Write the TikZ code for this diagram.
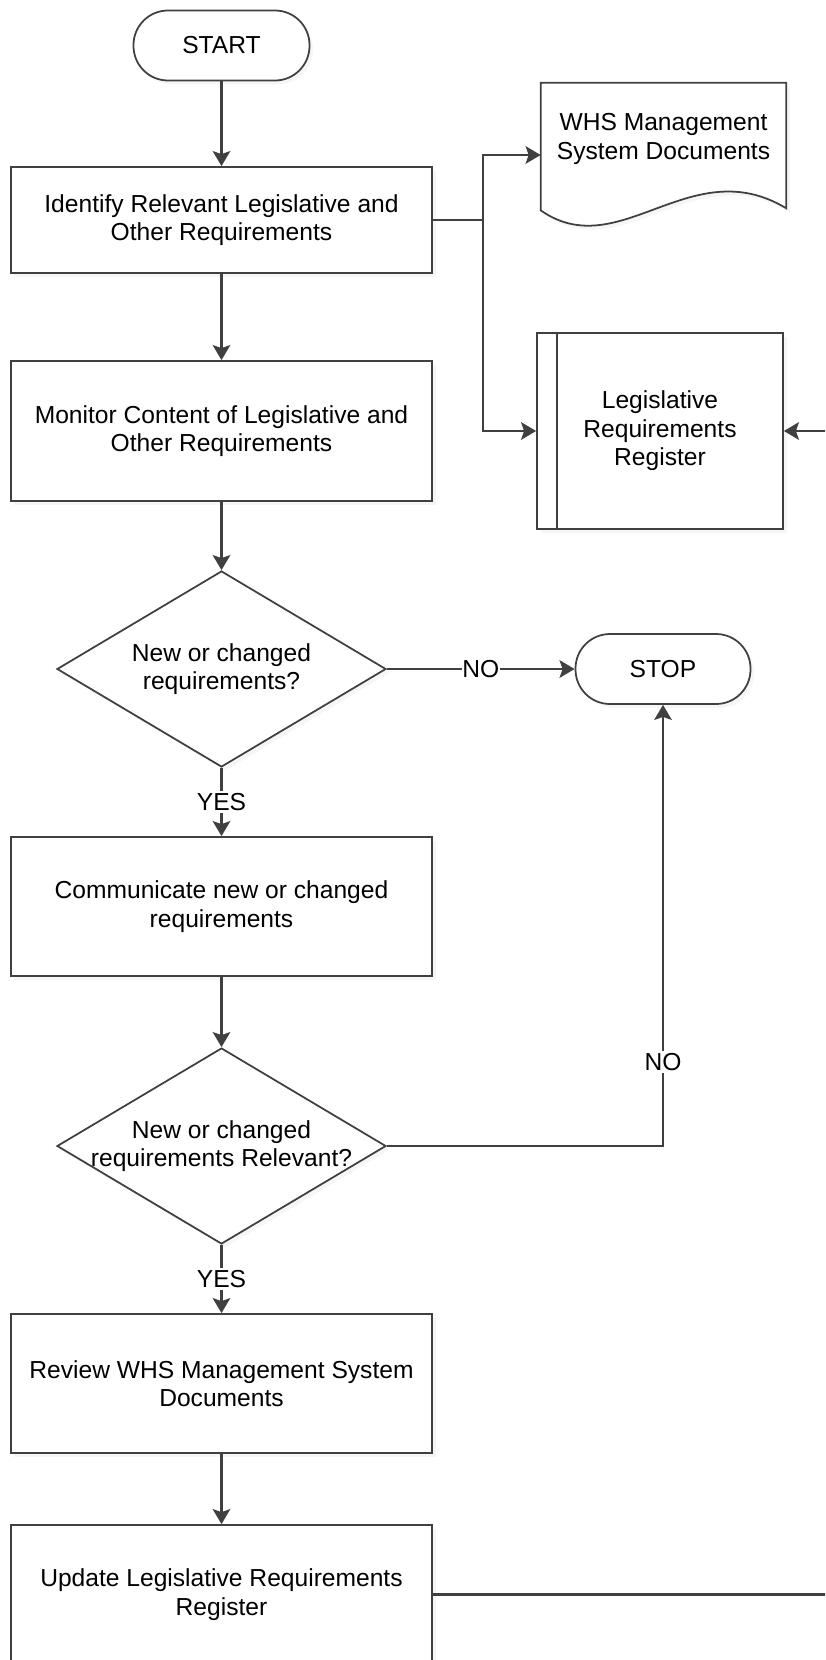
\documentclass[tikz,border=0pt]{standalone}
\usepackage{fontspec}
\setmainfont{Liberation Sans}
\usetikzlibrary{arrows.meta,positioning,shapes.geometric,shadows,calc,backgrounds}
\definecolor{ink}{RGB}{64,64,64}
\newcommand\flowfont{\fontsize{14}{16.2}\selectfont}
\tikzset{
  >={Stealth[length=3mm,width=3.5mm,inset=0.6mm]},
  faint/.style={drop shadow={shadow xshift=0.7mm,shadow yshift=-0.8mm,opacity=0.07}},
  box/.style={draw=ink,fill=white,line width=1pt,minimum width=84.2mm,
    minimum height=#1,align=center,font=\flowfont,faint},
  box/.default=27.8mm,
  terminal/.style={draw=ink,fill=white,line width=1pt,rounded corners=6.9mm,
    minimum width=35.2mm,minimum height=14mm,font=\flowfont,faint},
  decision/.style={diamond,draw=ink,fill=white,line width=1pt,inner sep=0pt,
    minimum width=65.8mm,minimum height=39.2mm,faint},
  flow/.style={->,line width=1.5pt,draw=ink},
  tag/.style={font=\flowfont,align=center},
  answer/.style={font=\flowfont,fill=white,inner sep=1.2pt},
}

\begin{document}
\begin{tikzpicture}
    \useasboundingbox (0,0) rectangle (16.5,-33.2);
    \clip (0,0) rectangle (16.5,-33.2);
    % main column
    \node[terminal] (start) at (4.43,-0.91) {START};
    \node[box=21.2mm] (idf) at (4.43,-4.4) {Identify Relevant Legislative and\\Other Requirements};
    \node[box=28mm] (mon) at (4.43,-8.62) {Monitor Content of Legislative and\\Other Requirements};
    \node[decision] (d1) at (4.43,-13.38) {};
    \node[tag] (d1q) at (d1) {New or changed\\requirements?};
    \node[box] (comm) at (4.43,-18.13) {Communicate new or changed\\requirements};
    \node[decision] (d2) at (4.43,-22.92) {};
    \node[tag] (d2q) at (d2) {New or changed\\requirements Relevant?};
    \node[box] (rev) at (4.43,-27.67) {Review WHS Management System\\Documents};
    \node[box] (upd) at (4.43,-31.89) {Update Legislative Requirements\\Register};
    % right column
    \node[terminal,minimum width=35mm] (stop) at (13.26,-13.38) {STOP};
    \node[tag,minimum width=49mm,minimum height=22.4mm] (docs) at (13.27,-2.78) {WHS Management\\System Documents};
    \begin{scope}[on background layer]
      \draw[draw=ink,fill=white,line width=1pt,faint] (docs.north west) -- (docs.north east)
        -- ([yshift=-2.6mm]docs.south east)
        .. controls ([xshift=-19.2mm,yshift=9mm]docs.south east) and ([xshift=15.8mm,yshift=-14mm]docs.south west)
        .. ([yshift=-3mm]docs.south west) -- cycle;
    \end{scope}
    \node[box=39.2mm,minimum width=49.2mm] (reg) at (13.2,-8.62) {Legislative\\Requirements\\Register};
    \draw[draw=ink,line width=1pt] ([xshift=4.2mm]reg.north west) -- ([xshift=4.2mm]reg.south west);
    \coordinate (fork) at (9.66,-4.4);
    \coordinate (back) at (17.2,-20);
    % connectors
    \draw[flow] (start) -- (idf);
    \draw[flow] (idf) -- (mon);
    \draw[flow] (mon) -- (d1);
    \draw[flow] (d1) -- node[answer]{YES} (comm);
    \draw[flow] (comm) -- (d2);
    \draw[flow] (d2) -- node[answer]{YES} (rev);
    \draw[flow] (rev) -- (upd);
    \draw[flow] (d1.east) -- node[answer,inner sep=0.3pt]{NO} (stop);
    \draw[flow] (d2.east) -| node[answer,pos=0.595]{NO} (stop.south);
    \draw[line width=1.5pt,ink] (idf.east) -- (fork);
    \draw[flow] (fork) |- ([yshift=-3.2mm]docs.west);
    \draw[flow] (fork) |- (reg.west);
    \draw[flow] (upd.east) -| (back) |- (reg.east);
\end{tikzpicture}
\end{document}
